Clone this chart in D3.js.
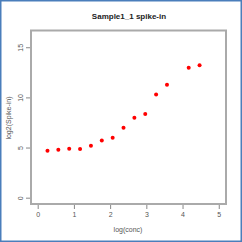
<!DOCTYPE html>
<html><head><meta charset="utf-8">
<script src="https://cdn.jsdelivr.net/npm/d3@7"></script>
<style>html,body{margin:0;padding:0;background:#fff;}svg{display:block;}</style>
</head><body>
<script>
const xValues = [0.27, 0.57, 0.87, 1.17, 1.47, 1.77, 2.07, 2.37, 2.67, 2.97, 3.27, 3.57, 4.17, 4.47];
const yValues = [4.69, 4.79, 4.89, 4.86, 5.19, 5.69, 5.98, 6.98, 7.98, 8.35, 10.3, 11.27, 12.96, 13.2];
const xTicks = [0, 1, 2, 3, 4, 5];
const yTicks = [0, 5, 10, 15];
const title = "Sample1_1 spike-in";
const xLabel = "log(conc)";
const yLabel = "log2(Spike-in)";

const W = 242, H = 242;
const svg = d3.select("body").append("svg").attr("width", W).attr("height", H);
svg.append("rect").attr("x",0.75).attr("y",0.75).attr("width",W-1.5).attr("height",H-1.5)
  .attr("fill","#fff").attr("stroke","#4a7ebb").attr("stroke-width",1.5);

const L = 31, R = 226, T = 30.5, B = 204;
const x = d3.scaleLinear().domain([-0.185, 5.2]).range([L, R]);
const y = d3.scaleLinear().domain([-0.63, 16.67]).range([B, T]);

const font = "Liberation Sans, Arial, sans-serif";

const xAxis = svg.append("g").attr("transform", `translate(0,${B})`)
  .call(d3.axisBottom(x).tickValues(xTicks).tickSize(5).tickPadding(3).tickFormat(d3.format("d")));
const yAxis = svg.append("g").attr("transform", `translate(${L},0)`)
  .call(d3.axisLeft(y).tickValues(yTicks).tickSize(5).tickPadding(3).tickFormat(d3.format("d")));
[xAxis, yAxis].forEach(g => {
  g.select(".domain").remove();
  g.selectAll(".tick line").attr("stroke", "#888").attr("stroke-width", 1);
  g.selectAll(".tick text").attr("fill", "#555").style("font-family", font).style("font-size", "7px");
});
yAxis.selectAll(".tick text").attr("transform", function(){
  const t = d3.select(this); return null;
});
// rotate y tick labels (R las=0)
yAxis.selectAll(".tick text").each(function(d){
  const t = d3.select(this);
  t.attr("x", null).attr("dy", null).attr("text-anchor","middle")
   .attr("transform", "translate(-10,0) rotate(-90)").attr("dy","0.35em");
});

svg.append("rect").attr("x", L).attr("y", T).attr("width", R - L).attr("height", B - T)
  .attr("fill", "none").attr("stroke", "#aaa").attr("stroke-width", 2);

svg.append("g").selectAll("circle").data(xValues).join("circle")
  .attr("cx", (d) => x(d)).attr("cy", (d, i) => y(yValues[i])).attr("r", 2)
  .attr("fill", "#ff0000");

svg.append("text").attr("x", 129).attr("y", 19).attr("text-anchor", "middle")
  .style("font-family", font).style("font-size", "8px").style("font-weight", "bold")
  .attr("fill", "#222").text(title);
svg.append("text").attr("x", 128).attr("y", 232).attr("text-anchor", "middle")
  .style("font-family", font).style("font-size", "7px").attr("fill", "#555").text(xLabel);
svg.append("text").attr("transform", "translate(11,118) rotate(-90)").attr("text-anchor", "middle")
  .style("font-family", font).style("font-size", "7px").attr("fill", "#555").text(yLabel);
</script>
</body></html>
